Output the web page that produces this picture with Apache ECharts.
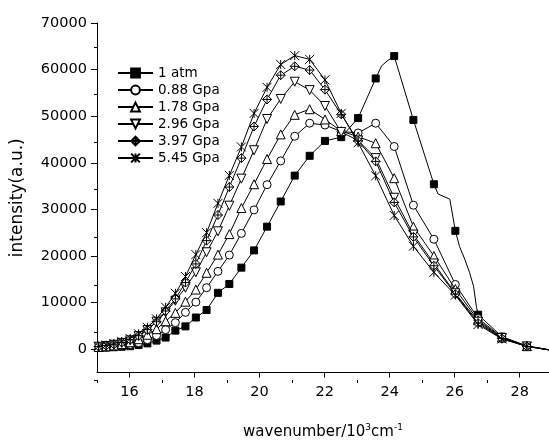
<!DOCTYPE html>
<html>
<head>
<meta charset="utf-8">
<script src="https://cdn.jsdelivr.net/npm/echarts@6/dist/echarts.min.js"></script>
<style>html,body{margin:0;padding:0;background:#fff}#c{width:549px;height:445px}</style>
</head>
<body>
<div id="c"></div>
<script>
// shared wavenumber grid (10^3 cm^-1) of the marked points
const wavenumbers = [15.05, 15.28, 15.52, 15.76, 16.02, 16.28, 16.55, 16.83, 17.11, 17.41, 17.72, 18.04, 18.37, 18.72, 19.07, 19.44, 19.83, 20.23, 20.65, 21.08, 21.54, 22.01, 22.51, 23.03, 23.57, 24.14, 24.73, 25.36, 26.02, 26.72, 27.45, 28.22, 29.04];
const atm1   = [300, 350, 420, 520, 650, 880, 1250, 1850, 2500, 3990, 4900, 6800, 8400, 12100, 14000, 17500, 21200, 26300, 31700, 37250, 41500, 44700, 45500, 49600, 58100, 62900, 49200, 35400, 25400, 7400, 2700, 700, -300];
const gpa088 = [380, 480, 620, 800, 1000, 1400, 2050, 2950, 4200, 5700, 7900, 10100, 13200, 16700, 20200, 24850, 29900, 35300, 40400, 45700, 48500, 48100, 46700, 46400, 48500, 43500, 30900, 23600, 13900, 6600, 2600, 700, -300];
const gpa178 = [480, 620, 820, 1100, 1500, 2150, 3100, 4300, 6000, 7800, 10200, 12800, 16400, 20300, 24700, 30300, 35400, 40800, 46100, 50300, 51500, 49300, 46800, 45600, 44200, 36700, 26300, 20000, 12900, 6200, 2500, 650, -300];
const gpa296 = [520, 700, 950, 1350, 1900, 2800, 4100, 5900, 7900, 10400, 13200, 16500, 20800, 25300, 30800, 36600, 42700, 49400, 53700, 57400, 55600, 52200, 46600, 44800, 41000, 32500, 24600, 18400, 12000, 5900, 2400, 600, -300];
const gpa397 = [580, 780, 1050, 1450, 2050, 2900, 4200, 5900, 8200, 10800, 14300, 18300, 23300, 28800, 34800, 41000, 47800, 53600, 58800, 60700, 59900, 55700, 50400, 44700, 40300, 31500, 24100, 17900, 11800, 5600, 2300, 600, -300];
const gpa545 = [650, 880, 1200, 1650, 2300, 3300, 4700, 6500, 9000, 12000, 15600, 20300, 25000, 31300, 37300, 43400, 50600, 56200, 61100, 63000, 62200, 57800, 50600, 44300, 37200, 28700, 22100, 16500, 11600, 5300, 2200, 600, -300];
// unmarked points of the 1 atm trace between markers
const atm1ExtraX = [23.75, 23.95, 25.49, 25.85, 26.15, 26.31, 26.46, 26.58, 26.67];
const atm1ExtraY = [60800, 62000, 33300, 32200, 22000, 19300, 16400, 13500, 9000];

const seriesNames = ['1 atm', '0.88 Gpa', '1.78 Gpa', '2.96 Gpa', '3.97 Gpa', '5.45 Gpa'];
const seriesValues = [atm1, gpa088, gpa178, gpa296, gpa397, gpa545];
const yTickLabels = [0, 10000, 20000, 30000, 40000, 50000, 60000, 70000];
const yMinorTicks = [-5000, 5000, 15000, 25000, 35000, 45000, 55000, 65000];
const xTickLabels = [16, 18, 20, 22, 24, 26, 28];
const xMinorTicks = [15, 17, 19, 21, 23, 25, 27];

const FONT = 'DejaVu Sans';
const symbols = [
  {symbol: 'rect', size: 7, fill: '#000'},
  {symbol: 'circle', size: 8, fill: '#fff'},
  {symbol: 'triangle', size: 9, fill: '#fff'},
  {symbol: 'triangle', size: 9, fill: '#fff', rotate: 180},
  {symbol: 'path://M5,0 L10,5 L5,10 L0,5 Z M5,0 L5,10 M0,5 L10,5', size: 9, fill: '#fff'},
  {symbol: 'path://M0,0 L10,10 M10,0 L0,10 M5,0 L5,10', size: 9, fill: 'none'}
];

function buildData(idx) {
  const pts = wavenumbers.map((x, i) => ({value: [x, seriesValues[idx][i]]}));
  if (idx === 0) {
    atm1ExtraX.forEach((x, i) => pts.push({value: [x, atm1ExtraY[i]], symbol: 'none'}));
    pts.sort((a, b) => a.value[0] - b.value[0]);
  }
  return pts;
}

const series = seriesNames.map((name, i) => ({
  name: name,
  type: 'line',
  xAxisIndex: 0,
  yAxisIndex: 0,
  data: buildData(i),
  symbol: symbols[i].symbol,
  symbolSize: symbols[i].size,
  symbolRotate: symbols[i].rotate || 0,
  showAllSymbol: true,
  clip: true,
  lineStyle: {color: '#000', width: 1},
  itemStyle: {color: symbols[i].fill, borderColor: '#000', borderWidth: 1},
  emphasis: {disabled: true},
  z: 2 + i
}));

const X_MIN = 15, X_MAX = 28.9, Y_MIN = -5000, Y_MAX = 70000;
const gridRect = {left: 97, top: 23, width: 452, height: 357, containLabel: false};

const chart = echarts.init(document.getElementById('c'), null, {renderer: 'canvas'});
chart.setOption({
  animation: false,
  backgroundColor: '#fff',
  textStyle: {fontFamily: FONT},
  grid: [Object.assign({}, gridRect), Object.assign({}, gridRect)],
  legend: {
    orient: 'vertical', left: 117, top: 66, padding: 0,
    itemWidth: 35, itemHeight: 11, itemGap: 3, itemTextGap: 5,
    textStyle: {fontFamily: FONT, fontSize: 13.5, lineHeight: 14, color: '#000'},
    data: seriesNames,
    selectedMode: false
  },
  xAxis: [
    {
      type: 'value', gridIndex: 0, min: X_MIN, max: X_MAX, interval: 1, position: 'bottom',
      splitLine: {show: false},
      axisLine: {show: true, onZero: false, lineStyle: {color: '#000', width: 1}},
      name: '{a|wavenumber/10}{s|3}{a|cm}{s|-1}',
      nameLocation: 'middle', nameGap: 51,
      nameTextStyle: {rich: {
        a: {fontFamily: FONT, fontSize: 15, color: '#000'},
        s: {fontFamily: FONT, fontSize: 9, color: '#000', padding: [0, 0, 9, 0]}
      }},
      axisTick: {show: true, inside: false, length: 5, customValues: xTickLabels, lineStyle: {color: '#000'}},
      axisLabel: {show: true, margin: 12, customValues: xTickLabels, fontFamily: FONT, fontSize: 14.5, color: '#000'}
    },
    {
      type: 'value', gridIndex: 1, min: X_MIN, max: X_MAX, interval: 1, position: 'bottom',
      splitLine: {show: false},
      axisLine: {show: false, onZero: false},
      axisTick: {show: true, inside: false, length: 3, customValues: xMinorTicks, lineStyle: {color: '#000'}},
      axisLabel: {show: false}
    }
  ],
  yAxis: [
    {
      type: 'value', gridIndex: 0, min: Y_MIN, max: Y_MAX, interval: 5000, position: 'left',
      splitLine: {show: false},
      axisLine: {show: true, onZero: false, lineStyle: {color: '#000', width: 1}},
      name: 'intensity(a.u.)', nameLocation: 'middle', nameGap: 71,
      nameTextStyle: {fontFamily: FONT, fontSize: 17, color: '#000'},
      axisTick: {show: true, inside: false, length: 6, customValues: yTickLabels, lineStyle: {color: '#000'}},
      axisLabel: {show: true, margin: 10, customValues: yTickLabels, formatter: v => String(v), fontFamily: FONT, fontSize: 14.5, color: '#000'}
    },
    {
      type: 'value', gridIndex: 1, min: Y_MIN, max: Y_MAX, interval: 5000, position: 'left',
      splitLine: {show: false},
      axisLine: {show: false, onZero: false},
      axisTick: {show: true, inside: false, length: 3, customValues: yMinorTicks, lineStyle: {color: '#000'}},
      axisLabel: {show: false}
    }
  ],
  series: series
});
</script>
</body>
</html>
